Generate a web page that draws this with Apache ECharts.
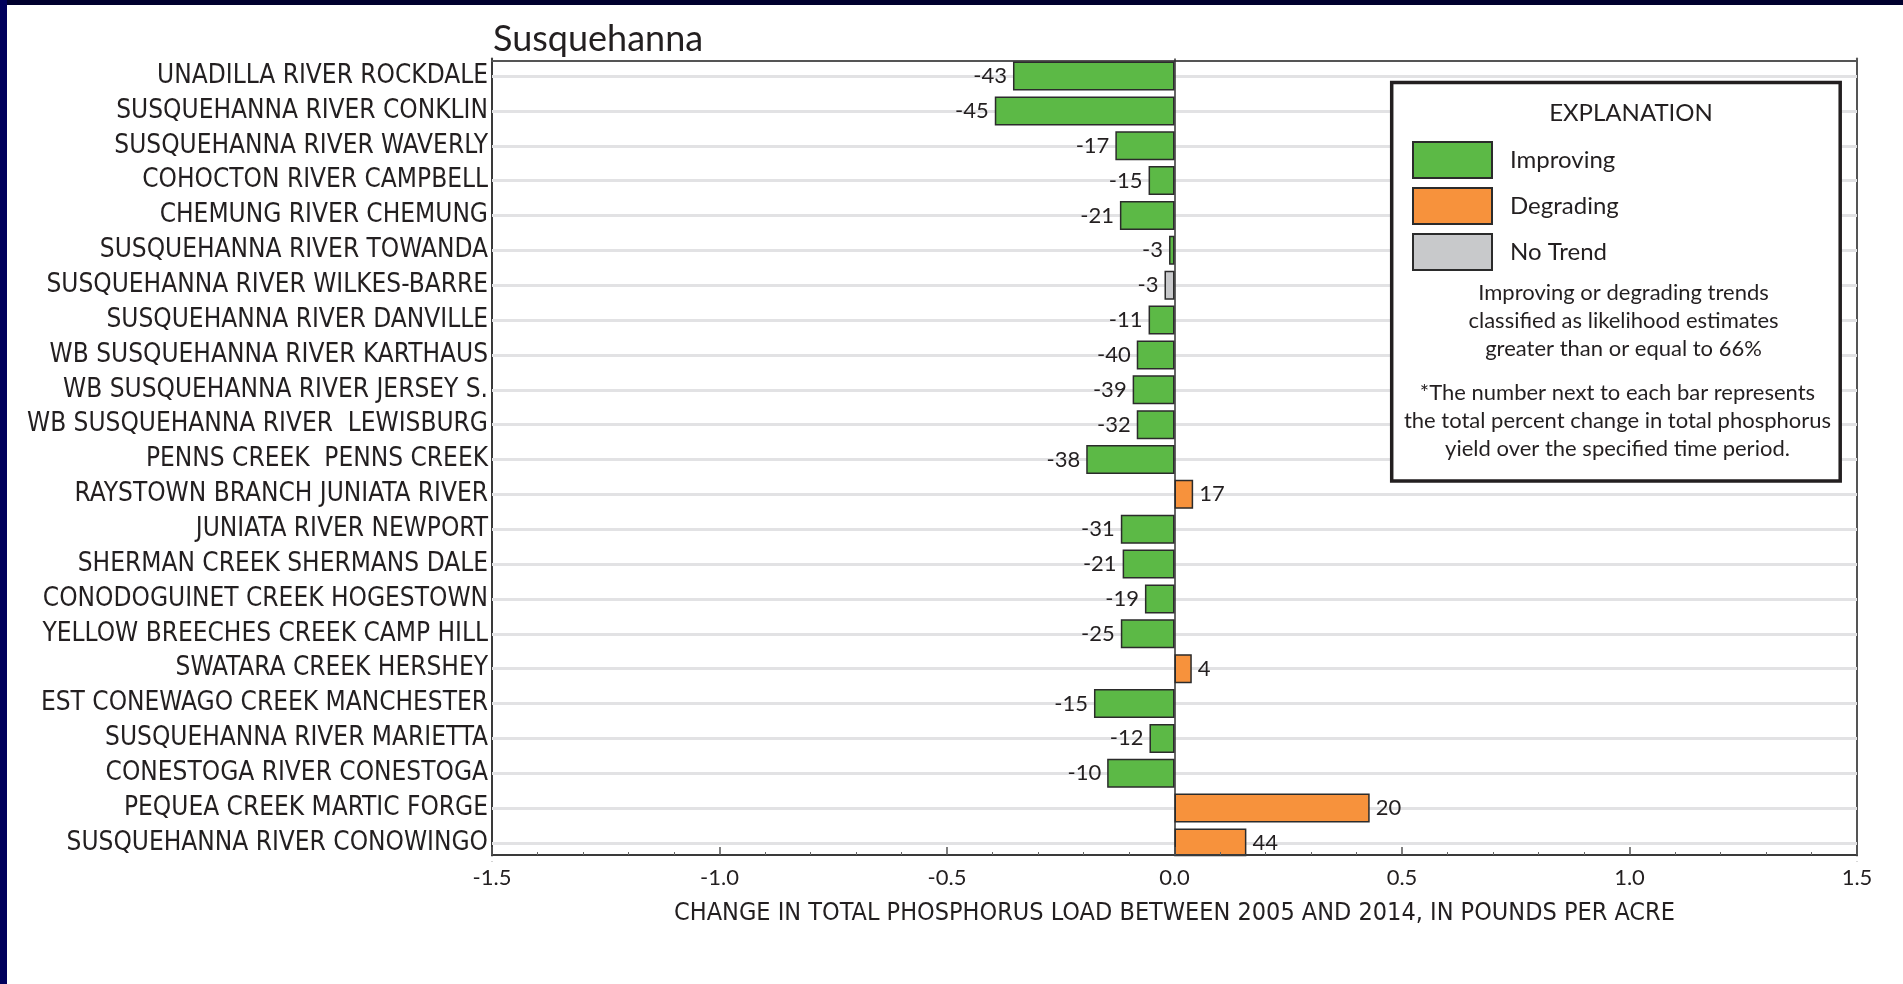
<!DOCTYPE html>
<html><head><meta charset="utf-8">
<script src="https://cdn.jsdelivr.net/npm/echarts@6/dist/echarts.min.js"></script>
<style>
html,body{margin:0;padding:0;background:#fff;overflow:hidden}
#chart{position:absolute;left:0;top:0;width:1903px;height:984px;background:#fff}
#bt{position:absolute;left:0;top:0;width:1903px;height:5px;background:#00002e}
#bl{position:absolute;left:0;top:0;width:7px;height:984px;background:#00005c}
</style></head><body>
<div id="chart"></div><div id="bt"></div><div id="bl"></div>
<script>
// ---- data ----
const categories = [
  'UNADILLA RIVER ROCKDALE',
  'SUSQUEHANNA RIVER CONKLIN',
  'SUSQUEHANNA RIVER WAVERLY',
  'COHOCTON RIVER CAMPBELL',
  'CHEMUNG RIVER CHEMUNG',
  'SUSQUEHANNA RIVER TOWANDA',
  'SUSQUEHANNA RIVER WILKES-BARRE',
  'SUSQUEHANNA RIVER DANVILLE',
  'WB SUSQUEHANNA RIVER KARTHAUS',
  'WB SUSQUEHANNA RIVER JERSEY S.',
  'WB SUSQUEHANNA RIVER  LEWISBURG',
  'PENNS CREEK  PENNS CREEK',
  'RAYSTOWN BRANCH JUNIATA RIVER',
  'JUNIATA RIVER NEWPORT',
  'SHERMAN CREEK SHERMANS DALE',
  'CONODOGUINET CREEK HOGESTOWN',
  'YELLOW BREECHES CREEK CAMP HILL',
  'SWATARA CREEK HERSHEY',
  'EST CONEWAGO CREEK MANCHESTER',
  'SUSQUEHANNA RIVER MARIETTA',
  'CONESTOGA RIVER CONESTOGA',
  'PEQUEA CREEK MARTIC FORGE',
  'SUSQUEHANNA RIVER CONOWINGO'
];
// change in total phosphorus load, pounds per acre
const loads = [-0.355, -0.395, -0.13, -0.057, -0.12, -0.012, -0.022, -0.057, -0.083, -0.092, -0.083, -0.194,
  0.041, -0.118, -0.114, -0.065, -0.118, 0.038, -0.177, -0.055, -0.148, 0.429, 0.158];
// total percent change in yield (label next to each bar)
const percents = [-43, -45, -17, -15, -21, -3, -3, -11, -40, -39, -32, -38, 17, -31, -21, -19, -25, 4, -15, -12, -10, 20, 44];
// trend class: I = Improving, D = Degrading, N = No Trend
const trends = ['I','I','I','I','I','I','N','I','I','I','I','I','D','I','I','I','I','D','I','I','I','D','D'];
const trendCodes = ['I', 'D', 'N'];
const trendNames = ['Improving', 'Degrading', 'No Trend'];
const xMin = -1.5, xMax = 1.5, xStep = 0.5;
const chartTitle = 'Susquehanna';
const xAxisName = 'CHANGE IN TOTAL PHOSPHORUS LOAD BETWEEN 2005 AND 2014, IN POUNDS PER ACRE';
const explanationTitle = 'EXPLANATION';
const note1 = ['Improving or degrading trends', 'classified as likelihood estimates', 'greater than or equal to 66%'];
const note2 = ['*The number next to each bar represents', 'the total percent change in total phosphorus', 'yield over the specified time period.'];

// ---- styles ----
const colors = { I: '#5cb946', D: '#f7923c', N: '#c8c9cb' };
const ink = '#231f20';
const condensed = 'Liberation Sans Narrow, DejaVu Sans Condensed, sans-serif';

const barSeries = trendCodes.map((code, k) => ({
  name: trendNames[k],
  type: 'bar',
  barWidth: 29,
  barGap: '-100%',
  z: 2,
  animation: false,
  itemStyle: { color: colors[code], borderColor: '#2b2b2b', borderWidth: 1.5 },
  label: {
    show: true, distance: 6, color: ink, fontFamily: 'Lato', fontSize: 22,
    formatter: p => String(percents[p.dataIndex])
  },
  data: loads.map((v, i) => trends[i] === code
    ? { value: v, label: { position: v < 0 ? 'left' : 'right' } }
    : '-')
}));

const bgSeries = {
  type: 'line', data: [], z: 1, silent: true, animation: false,
  markLine: {
    z: 1, silent: true, symbol: 'none', animation: false,
    label: { show: false },
    lineStyle: { color: '#e2e2e4', width: 3, type: 'solid' },
    data: categories.map(c => ({ yAxis: c }))
      .concat([{ xAxis: 0, lineStyle: { color: '#333', width: 1.5, type: 'solid' } }])
  }
};

const chart = echarts.init(document.getElementById('chart'));
chart.setOption({
  backgroundColor: '#fff',
  animation: false,
  title: {
    text: chartTitle, left: 493, top: 21, padding: 0,
    textStyle: { fontFamily: 'Lato', fontSize: 36, fontWeight: 'normal', color: ink }
  },
  grid: { left: 492, right: 46, top: 58.6, height: 801.8, containLabel: false, outerBoundsMode: 'none' },
  xAxis: [{
    type: 'value', min: xMin, max: xMax, interval: xStep, position: 'bottom', offset: -5.4, z: 3,
    axisLine: { show: true, lineStyle: { color: '#3a3a3a', width: 2 } },
    axisTick: { show: true, inside: true, length: 8, lineStyle: { color: '#555', width: 1.5 } },
    minorTick: { show: true, splitNumber: 5, length: 3, lineStyle: { color: '#666', width: 1 } },
    splitLine: { show: false }, minorSplitLine: { show: false },
    axisLabel: { margin: 12, color: ink, fontFamily: 'Lato', fontSize: 22, formatter: v => v.toFixed(1) },
    name: xAxisName, nameLocation: 'middle', nameGap: 46,
    nameTextStyle: { color: ink, fontFamily: condensed, fontSize: 25 }
  }, {
    type: 'value', min: xMin, max: xMax, interval: xStep, position: 'top', offset: -2.4,
    axisLine: { show: true, lineStyle: { color: '#555', width: 2 } },
    axisTick: { show: false }, axisLabel: { show: false }, splitLine: { show: false }
  }],
  yAxis: [{
    type: 'category', data: categories, inverse: true, position: 'left',
    axisLine: { show: true, onZero: false, lineStyle: { color: '#3a3a3a', width: 2 } },
    axisTick: { show: false }, splitLine: { show: false },
    axisLabel: {
      interval: 0, margin: 4, color: ink, padding: [0, 0, 3, 0],
      fontFamily: condensed, fontSize: 26
    }
  }, {
    type: 'category', data: categories, inverse: true, position: 'right',
    axisLine: { show: true, onZero: false, lineStyle: { color: '#555', width: 2 } },
    axisTick: { show: false }, axisLabel: { show: false }, splitLine: { show: false }
  }],
  legend: {
    orient: 'vertical', left: 1412, top: 141, itemWidth: 79, itemHeight: 36, itemGap: 8,
    padding: 0, selectedMode: false, icon: 'rect', z: 10,
    textStyle: { fontFamily: 'Lato', fontSize: 24, color: ink, padding: [0, 0, 0, 13] },
    data: trendNames
  },
  graphic: [
    { type: 'rect', z: 3, silent: true,
      shape: { x: 1391.7, y: 82.5, width: 448.5, height: 398.5 },
      style: { fill: '#fff', stroke: ink, lineWidth: 3.5 } },
    { type: 'text', z: 5, silent: true,
      style: { text: explanationTitle, x: 1631, y: 113, textAlign: 'center', textVerticalAlign: 'middle',
        font: '24px Lato', fill: ink } },
    { type: 'text', z: 5, silent: true,
      style: { text: note1.join('\n'), x: 1623.5, y: 321, textAlign: 'center', textVerticalAlign: 'middle',
        font: '22px Lato', lineHeight: 28, fill: ink } },
    { type: 'text', z: 5, silent: true,
      style: { text: note2.join('\n'), x: 1617.5, y: 421, textAlign: 'center', textVerticalAlign: 'middle',
        font: '22px Lato', lineHeight: 28, fill: ink } },
    { type: 'rect', z: 50, silent: true,
      shape: { x: 480, y: 856.3, width: 1390, height: 5 },
      style: { fill: '#fff' } }
  ],
  series: [bgSeries].concat(barSeries)
});
</script>
</body></html>
